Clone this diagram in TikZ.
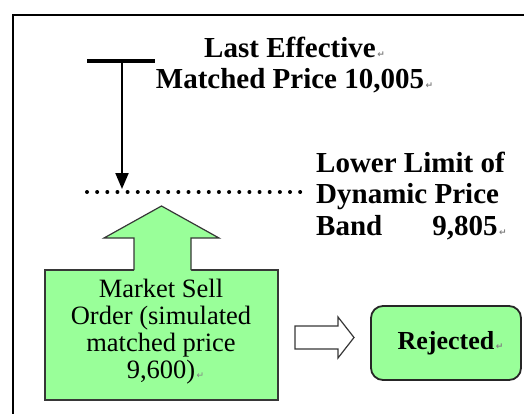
\documentclass[tikz,border=0pt]{standalone}
\usepackage{fontspec}
\setmainfont{Liberation Serif}
\newfontfamily\dejavu{DejaVu Sans}
\usetikzlibrary{arrows.meta}
\definecolor{lgreen}{RGB}{153,255,153}
\definecolor{edgegray}{RGB}{55,55,55}
\newcommand\retmark{\rlap{\dejavu\fontsize{9}{9}\selectfont\color{gray}\,↵}}
\begin{document}
\begin{tikzpicture}[x=1pt,y=-1pt,
  title/.style={font=\fontsize{29}{31.5}\selectfont\bfseries, inner sep=0pt},
  boxtext/.style={font=\fontsize{26.5}{27}\selectfont, inner sep=0pt, align=center, anchor=base},
  greenbox/.style={draw=edgegray, fill=lgreen, line width=1.2pt, inner sep=0pt},
  outline/.style={draw=edgegray, line width=1.2pt, line join=miter}]
\useasboundingbox (0,0) rectangle (524,414);
% frame
\draw[line width=1.5pt] (13,414) -- (13,15) -- (524,15);
% titles
\node[title, align=center, anchor=base] (last) at (290,89) {Last Effective\retmark\\Matched Price 10,005\retmark};
\node[title, align=left, anchor=base west] (lower) at (316,235) {Lower Limit of\\Dynamic Price\\Band\hspace{50pt}9,805\retmark};
% T bar and arrow
\coordinate (tl) at (87,61);
\coordinate (tr) at (155,61);
\coordinate (tm) at (122,61);
\coordinate (tip) at (122,189);
\draw[line width=3.2pt] (tl) -- (tr);
\draw[line width=2pt, -{Triangle[width=13pt,length=16pt]}] (tm) -- (tip);
% dotted line
\coordinate (dl) at (87,192);
\coordinate (dr) at (302,192);
\draw[line width=4pt, line cap=round, dash pattern=on 0pt off 10.15pt] (dl) -- (dr);
% market sell box
\node[greenbox, minimum width=233pt, minimum height=130pt] (mbox) at (161.5,335) {};
\node[boxtext] (mtext) at (161,378) {Market Sell\\Order (simulated\\matched price\\9,600)\retmark};
% up arrow
\fill[lgreen] (134,272) -- (134,238) -- (104,238) -- (161.5,206) -- (219,238) -- (191,238) -- (191,272) -- cycle;
\draw[outline] (134,270) -- (134,238) -- (104,238) -- (161.5,206) -- (219,238) -- (191,238) -- (191,270);
% hollow right arrow
\draw[outline, fill=white] (295,326) -- (338,326) -- (338,317) -- (354,337.5) -- (338,358) -- (338,349) -- (295,349) -- cycle;
% rejected
\node[draw=black!85, fill=lgreen, line width=1.8pt, rounded corners=12pt, minimum width=150pt, minimum height=74pt, font=\fontsize{26}{28}\selectfont\bfseries] (rej) at (446,343) {Rejected\retmark};
\end{tikzpicture}
\end{document}
